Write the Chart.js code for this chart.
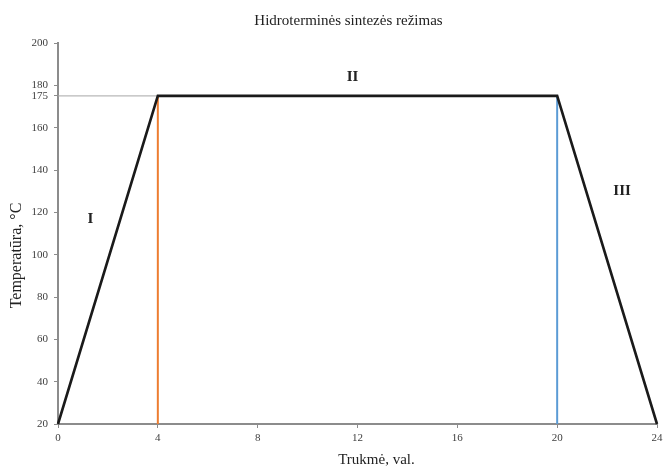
<!DOCTYPE html>
<html>
<head>
<meta charset="utf-8">
<script src="https://cdn.jsdelivr.net/npm/chart.js@4.4.1/dist/chart.umd.min.js"></script>
<style>
  html, body { margin: 0; padding: 0; background: #fff; }
  #wrap { width: 672px; height: 468px; position: relative; }
</style>
</head>
<body>
<div id="wrap"><canvas id="c" width="672" height="468"></canvas></div>
<script>
// Heating regime: time (h) vs temperature (°C)
const regimeTime = [0, 4, 20, 24];
const regimeTemp = [20, 175, 175, 20];

// Stage boundaries (vertical markers)
const stage1End = { time: [4, 4], temp: [20, 175] };
const stage2End = { time: [20, 20], temp: [20, 175] };

// Reference level of the hold temperature
const holdRef = { time: [0, 4], temp: [175, 175] };

// Axis ticks
const xTicks = [0, 4, 8, 12, 16, 20, 24];
const yTicks = [20, 40, 60, 80, 100, 120, 140, 160, 175, 180, 200];

// Stage labels and where they sit (data coordinates)
const stageNames = ['I', 'II', 'III'];
const stageX = [1.3, 11.8, 22.6];
const stageY = [117, 184, 130];

const chartTitle = 'Hidroterminės sintezės režimas';
const xTitle = 'Trukmė, val.';
const yTitle = 'Temperatūra, °C';

const serif = "'Liberation Serif', 'Times New Roman', serif";

function pts(xs, ys) { return xs.map((x, i) => ({ x: x, y: ys[i] })); }

// Stage numerals placed through the scales
const stageLabels = {
  id: 'stageLabels',
  afterDatasetsDraw(chart) {
    const { ctx, scales: { x, y } } = chart;
    ctx.save();
    ctx.font = "bold 15px " + serif;
    ctx.fillStyle = '#222';
    ctx.textAlign = 'center';
    ctx.textBaseline = 'middle';
    stageNames.forEach((t, i) => {
      ctx.fillText(t, x.getPixelForValue(stageX[i]), y.getPixelForValue(stageY[i]));
    });
    ctx.restore();
  }
};

// Chart and axis titles, offset relative to the plot area
const titles = {
  id: 'titles',
  afterDraw(chart) {
    const { ctx, chartArea: a } = chart;
    ctx.save();
    ctx.fillStyle = '#222';
    ctx.textAlign = 'center';
    ctx.textBaseline = 'middle';
    ctx.font = "15px " + serif;
    ctx.fillText(chartTitle, (a.left + a.right) / 2 - 9, a.top - 22);
    ctx.fillText(xTitle, (a.left + a.right) / 2 + 19, a.bottom + 36);
    ctx.translate(a.left - 41, (a.top + a.bottom) / 2 + 22);
    ctx.rotate(-Math.PI / 2);
    ctx.font = "16px " + serif;
    ctx.fillText(yTitle, 0, 0);
    ctx.restore();
  }
};

new Chart(document.getElementById('c'), {
  type: 'scatter',
  data: {
    datasets: [
      { data: pts(regimeTime, regimeTemp), showLine: true, borderColor: '#1a1a1a', borderWidth: 2.6,
        pointRadius: 0, order: 0, clip: false },
      { data: pts(stage1End.time, stage1End.temp), showLine: true, borderColor: '#ED7D31', borderWidth: 2,
        pointRadius: 0, order: 1, clip: false },
      { data: pts(stage2End.time, stage2End.temp), showLine: true, borderColor: '#5B9BD5', borderWidth: 2,
        pointRadius: 0, order: 1, clip: false },
      { data: pts(holdRef.time, holdRef.temp), showLine: true, borderColor: '#a6a6a6', borderWidth: 1,
        pointRadius: 0, order: 2, clip: false }
    ]
  },
  options: {
    responsive: false,
    animation: false,
    layout: { padding: { left: 0, right: 15, top: 43, bottom: 0 } },
    plugins: {
      legend: { display: false },
      tooltip: { enabled: false },
      title: { display: false }
    },
    scales: {
      x: {
        type: 'linear', min: 0, max: 24,
        afterBuildTicks(s) { s.ticks = xTicks.map(v => ({ value: v })); },
        afterFit(s) { s.height = 44; },
        border: { display: true, color: '#8c8c8c', width: 2 },
        grid: { drawOnChartArea: false, drawTicks: true, tickLength: 4, color: '#8c8c8c' },
        ticks: { color: '#404040', font: { family: serif, size: 11 }, padding: 4, maxRotation: 0 }
      },
      y: {
        type: 'linear', min: 20, max: 200,
        afterBuildTicks(s) { s.ticks = yTicks.map(v => ({ value: v })); },
        afterFit(s) { s.width = 58; },
        border: { display: true, color: '#8c8c8c', width: 2 },
        grid: { drawOnChartArea: false, drawTicks: true, tickLength: 4, color: '#8c8c8c' },
        ticks: { color: '#404040', font: { family: serif, size: 11 }, padding: 6, autoSkip: false }
      }
    }
  },
  plugins: [stageLabels, titles]
});
</script>
</body>
</html>
